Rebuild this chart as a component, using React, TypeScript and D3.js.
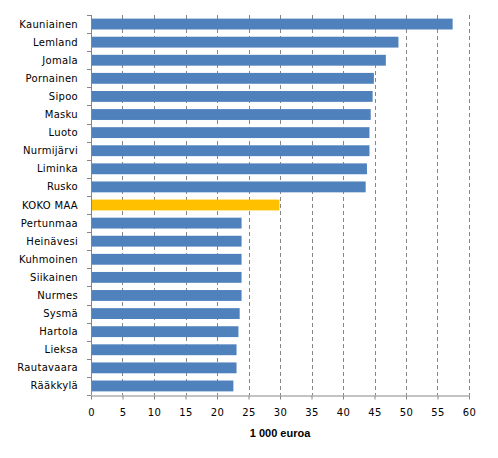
import React, { useEffect, useRef } from "react";
import * as d3 from "d3";

const municipalities = [
  "Kauniainen", "Lemland", "Jomala", "Pornainen", "Sipoo", "Masku", "Luoto",
  "Nurmijärvi", "Liminka", "Rusko", "KOKO MAA", "Pertunmaa", "Heinävesi",
  "Kuhmoinen", "Siikainen", "Nurmes", "Sysmä", "Hartola", "Lieksa",
  "Rautavaara", "Rääkkylä",
];
const values = [
  57.4, 48.8, 46.8, 44.9, 44.7, 44.4, 44.2, 44.2, 43.8, 43.6, 29.9,
  23.9, 23.9, 23.9, 23.9, 23.9, 23.6, 23.4, 23.1, 23.1, 22.6,
];
const xTicks = [0, 5, 10, 15, 20, 25, 30, 35, 40, 45, 50, 55, 60];
const highlight = "KOKO MAA";
const axisTitle = "1 000 euroa";

const App: React.FC = () => {
  const svgRef = useRef<SVGSVGElement | null>(null);

  useEffect(() => {
    const svg = d3.select(svgRef.current);
    svg.selectAll("*").remove();

    const w = 498;
    const h = 458;
    const m = { top: 15, right: 29, bottom: 63, left: 91 };
    const grey = "#868686";

    const data = municipalities.map((name, i) => ({ name, value: values[i] }));

    const x = d3.scaleLinear().domain([0, 60]).range([m.left, w - m.right]);
    const y = d3
      .scaleBand()
      .domain(municipalities)
      .range([m.top, h - m.bottom])
      .paddingInner(0.4)
      .paddingOuter(0.2);

    // dashed gridlines
    svg.append("g")
      .selectAll("line")
      .data(xTicks.filter((t) => t > 0))
      .enter()
      .append("line")
      .attr("x1", (d) => Math.round(x(d)) + 0.5)
      .attr("x2", (d) => Math.round(x(d)) + 0.5)
      .attr("y1", m.top)
      .attr("y2", h - m.bottom)
      .attr("stroke", grey)
      .attr("stroke-dasharray", "4,3");

    // bars
    svg.append("g")
      .selectAll("rect")
      .data(data)
      .enter()
      .append("rect")
      .attr("x", x(0) + 1)
      .attr("y", (d) => y(d.name)!)
      .attr("width", (d) => x(d.value) - x(0) - 1)
      .attr("height", y.bandwidth())
      .attr("fill", (d) => (d.name === highlight ? "#FFC000" : "#4F81BD"));

    // category axis
    const step = y.step();
    const left = svg.append("g");
    left.append("line")
      .attr("x1", m.left + 0.5)
      .attr("x2", m.left + 0.5)
      .attr("y1", m.top)
      .attr("y2", h - m.bottom)
      .attr("stroke", grey);
    left.selectAll("line.tick")
      .data(d3.range(municipalities.length + 1))
      .enter()
      .append("line")
      .attr("class", "tick")
      .attr("x1", m.left - 4)
      .attr("x2", m.left)
      .attr("y1", (i) => Math.round(m.top + i * step) + 0.5)
      .attr("y2", (i) => Math.round(m.top + i * step) + 0.5)
      .attr("stroke", grey);
    left.selectAll("text")
      .data(municipalities)
      .enter()
      .append("text")
      .attr("x", 78)
      .attr("y", (d) => y(d)! + y.bandwidth() / 2)
      .attr("dy", "0.35em")
      .attr("text-anchor", "end")
      .style("font-family", "DejaVu Sans")
      .style("font-size", "10px")
      .style("letter-spacing", "0.3px")
      .attr("fill", "#000")
      .text((d) => d);

    // value axis
    const bottom = svg.append("g")
      .attr("transform", `translate(0, ${h - m.bottom + 0.5})`)
      .call(d3.axisBottom(x).tickValues(xTicks).tickSize(4).tickSizeOuter(0).tickPadding(9));
    bottom.select(".domain").attr("stroke", grey);
    bottom.selectAll(".tick line").attr("stroke", grey);
    bottom.selectAll(".tick text")
      .style("font-family", "DejaVu Sans")
      .style("font-size", "10px")
      .style("letter-spacing", "0.3px")
      .attr("fill", "#000");

    svg.append("text")
      .attr("x", x(30))
      .attr("y", 437)
      .attr("text-anchor", "middle")
      .style("font-family", "Liberation Sans")
      .style("font-weight", "bold")
      .style("font-size", "11px")
      .text(axisTitle);
  }, []);

  return (
    <svg
      ref={svgRef}
      width={498}
      height={458}
      style={{ position: "absolute", left: 0, top: 0, background: "#fff" }}
    />
  );
};

export default App;
